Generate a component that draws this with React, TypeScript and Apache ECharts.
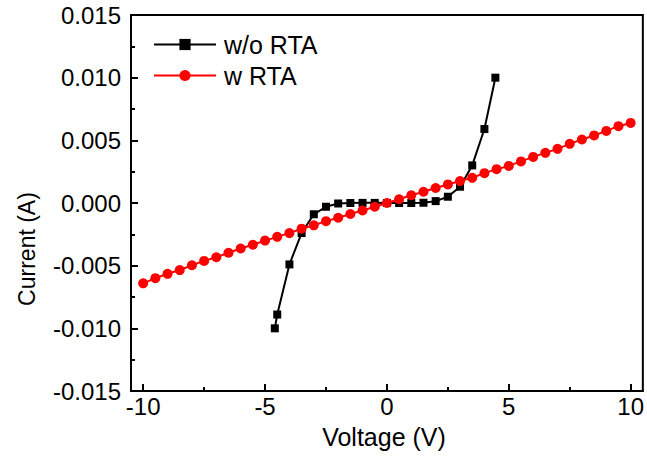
import React, { useEffect, useRef } from "react";
import * as echarts from "echarts";

const xTicks = [-10, -5, 0, 5, 10];
const xMinorTicks = [-7.5, -2.5, 2.5, 7.5];

const woVoltage = [-4.6, -4.5, -4, -3.5, -3, -2.5, -2, -1.5, -1, -0.5, 0, 0.5, 1, 1.5, 2, 2.5, 3, 3.5, 4, 4.45];
const woCurrent = [-0.0100, -0.0089, -0.0049, -0.0024, -0.0009, -0.0003, -0.00004, 0.0, 0.00001, 0.00001, 0.0, 0.0, 0.0, 0.00002, 0.00015, 0.0005, 0.0013, 0.003, 0.0059, 0.0100];

const wVoltage = [-10, -9.5, -9, -8.5, -8, -7.5, -7, -6.5, -6, -5.5, -5, -4.5, -4, -3.5, -3, -2.5, -2, -1.5, -1, -0.5, 0, 0.5, 1, 1.5, 2, 2.5, 3, 3.5, 4, 4.5, 5, 5.5, 6, 6.5, 7, 7.5, 8, 8.5, 9, 9.5, 10];
const wCurrent = [-0.00641, -0.006, -0.00565, -0.00535, -0.00497, -0.00462, -0.00433, -0.00397, -0.00363, -0.00333, -0.003, -0.0027, -0.0024, -0.00205, -0.00178, -0.00145, -0.00118, -0.00088, -0.0006, -0.0003, 0.0, 0.0003, 0.00062, 0.0009, 0.0012, 0.00148, 0.00175, 0.00201, 0.00238, 0.0027, 0.00296, 0.00332, 0.00368, 0.004, 0.00432, 0.00472, 0.00507, 0.00539, 0.00575, 0.00613, 0.00639];

const FONT = "'Liberation Sans', Arial, sans-serif";

export default function App() {
  const ref = useRef<HTMLDivElement>(null);
  useEffect(() => {
    if (!ref.current) return;
    const chart = echarts.init(ref.current, null, { renderer: "svg" });
    chart.setOption({
      animation: false,
      backgroundColor: "#fff",
      grid: { left: 131, right: 3, top: 15, bottom: 81, show: true, borderColor: "#000", borderWidth: 2 },
      legend: {
        left: 148,
        top: 27,
        orient: "vertical",
        itemWidth: 62,
        itemHeight: 14,
        itemGap: 6,
        textStyle: { fontFamily: FONT, fontSize: 25, color: "#000", padding: [0, 0, 0, 3] },
        data: ["w/o RTA", "w RTA"],
      },
      xAxis: [
        {
          type: "value",
          min: -10.5,
          max: 10.5,
          axisLine: { onZero: false, lineStyle: { color: "#000", width: 2 } },
          axisTick: { inside: true, length: 7, customValues: xTicks, lineStyle: { color: "#000", width: 2 } },
          axisLabel: { customValues: xTicks, margin: 3, fontFamily: FONT, fontSize: 24, color: "#000" },
          splitLine: { show: false },
        },
        {
          type: "value",
          min: -10.5,
          max: 10.5,
          position: "bottom",
          axisLine: { show: false, onZero: false },
          axisTick: { inside: true, length: 4, customValues: xMinorTicks, lineStyle: { color: "#000", width: 2 } },
          axisLabel: { show: false },
          splitLine: { show: false },
        },
      ],
      yAxis: {
        type: "value",
        min: -0.015,
        max: 0.015,
        interval: 0.005,
        axisLine: { onZero: false, lineStyle: { color: "#000", width: 2 } },
        axisTick: { inside: true, length: 7, lineStyle: { color: "#000", width: 2 } },
        minorTick: { show: true, splitNumber: 2, length: 4, lineStyle: { color: "#000", width: 2 } },
        axisLabel: {
          margin: 10,
          fontFamily: FONT,
          fontSize: 24,
          color: "#000",
          formatter: (v: number) => v.toFixed(3),
        },
        splitLine: { show: false },
      },
      graphic: [
        {
          type: "text",
          x: 384,
          y: 437,
          style: { text: "Voltage (V)", fontFamily: FONT, fontSize: 25, fill: "#000", align: "center", verticalAlign: "middle" },
        },
        {
          type: "text",
          x: 27,
          y: 249,
          rotation: Math.PI / 2,
          style: { text: "Current (A)", fontFamily: FONT, fontSize: 23, fill: "#000", align: "center", verticalAlign: "middle" },
        },
      ],
      series: [
        {
          name: "w/o RTA",
          type: "line",
          data: woVoltage.map((v, i) => [v, woCurrent[i]]),
          symbol: "rect",
          symbolSize: 8,
          itemStyle: { color: "#000" },
          lineStyle: { color: "#000", width: 2 },
          z: 2,
        },
        {
          name: "w RTA",
          type: "line",
          data: wVoltage.map((v, i) => [v, wCurrent[i]]),
          symbol: "circle",
          symbolSize: 10,
          itemStyle: { color: "#ff0000" },
          lineStyle: { color: "#ff0000", width: 2 },
          z: 3,
        },
      ],
    });
    return () => chart.dispose();
  }, []);
  return <div ref={ref} style={{ position: "fixed", left: 0, top: 0, width: 647, height: 472 }} />;
}
